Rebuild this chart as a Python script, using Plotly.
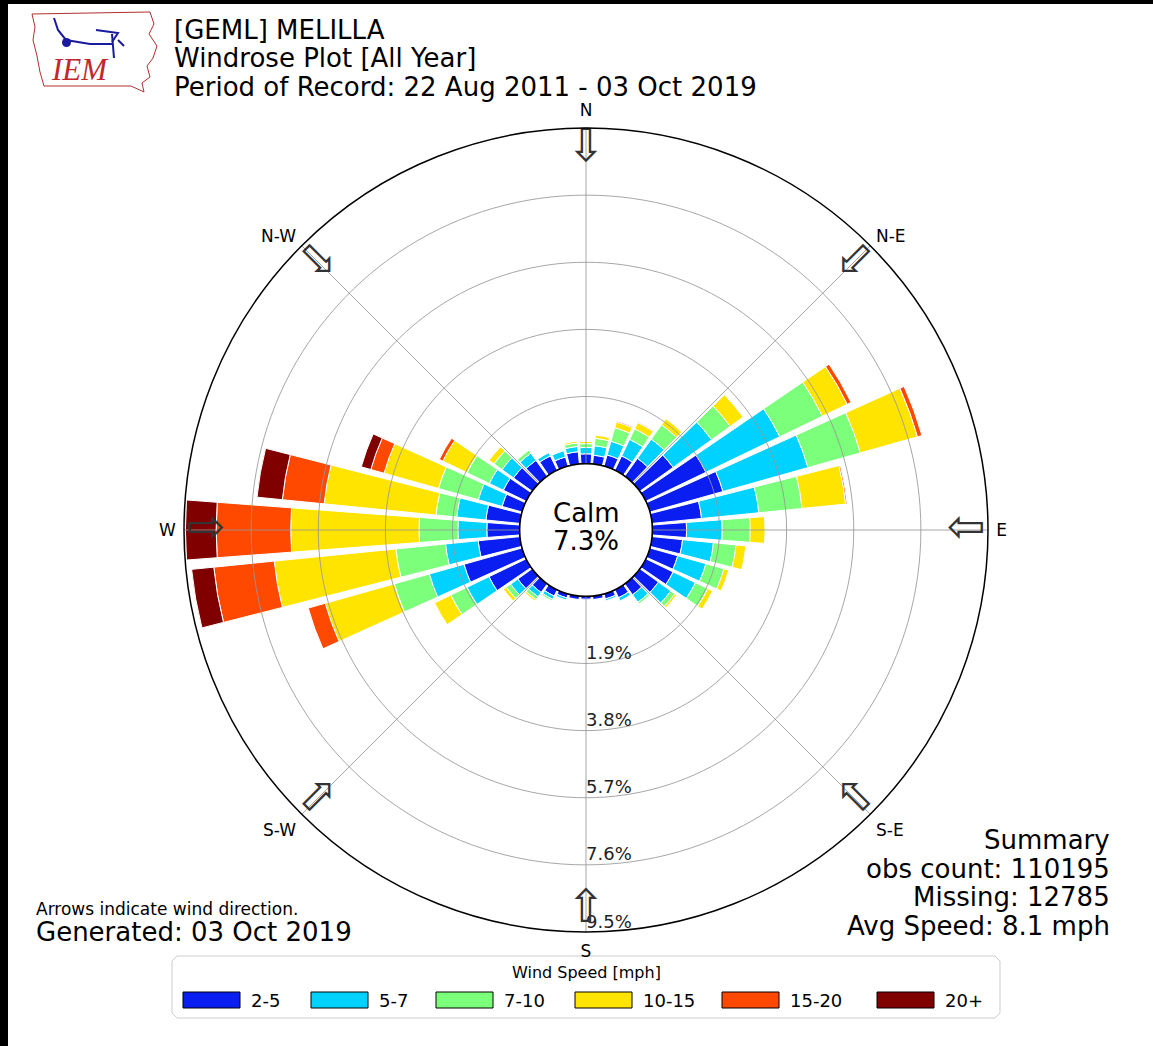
import numpy as np
import plotly.graph_objects as go

W, H = 1153, 1046

# ---- data -------------------------------------------------------------
directions = list(range(0, 360, 10))
speed_bins = ["2-5", "5-7", "7-10", "10-15", "15-20", "20+"]
bin_colors = ["#0a1ef2", "#00d2ff", "#7cff7a", "#ffe400", "#ff4800", "#800000"]

# percent of observations per 10-degree sector and speed class
freq_2_5 = [0.28, 0.25, 0.33, 0.45, 0.62, 1.16, 1.89, 2.15, 1.41, 0.97, 0.87, 0.82,
            0.86, 0.65, 0.38, 0.25, 0.15, 0.10, 0.08, 0.10, 0.12, 0.20, 0.30, 0.50,
            1.17, 1.71, 1.19, 0.93, 0.97, 0.59, 0.72, 0.65, 0.55, 0.45, 0.27, 0.35]
freq_5_7 = [0.18, 0.27, 0.40, 0.52, 0.67, 1.34, 2.32, 2.50, 1.63, 1.01, 0.88, 0.83,
            0.70, 0.43, 0.26, 0.10, 0.05, 0.00, 0.00, 0.00, 0.06, 0.10, 0.15, 0.25,
            0.69, 1.02, 0.93, 0.82, 0.83, 0.70, 0.44, 0.40, 0.25, 0.10, 0.18, 0.15]
freq_7_10 = [0.11, 0.21, 0.40, 0.33, 0.50, 0.65, 1.34, 1.54, 1.23, 0.79, 0.64, 0.53,
             0.39, 0.14, 0.06, 0.00, 0.00, 0.00, 0.00, 0.00, 0.00, 0.05, 0.10, 0.15,
             0.51, 1.03, 1.41, 1.10, 0.59, 1.17, 0.70, 0.28, 0.10, 0.00, 0.00, 0.10]
freq_10_15 = [0.06, 0.09, 0.17, 0.20, 0.21, 0.45, 0.78, 1.68, 1.24, 0.42, 0.28, 0.14,
              0.15, 0.06, 0.00, 0.00, 0.00, 0.00, 0.00, 0.00, 0.00, 0.00, 0.05, 0.10,
              0.51, 2.03, 3.46, 3.63, 3.18, 1.60, 0.76, 0.17, 0.00, 0.00, 0.00, 0.05]
freq_15_20 = [0.00, 0.00, 0.03, 0.02, 0.00, 0.00, 0.12, 0.13, 0.04, 0.00, 0.00, 0.00,
              0.00, 0.00, 0.00, 0.00, 0.00, 0.00, 0.00, 0.00, 0.00, 0.00, 0.00, 0.00,
              0.00, 0.50, 1.72, 2.11, 1.19, 0.39, 0.11, 0.00, 0.00, 0.00, 0.00, 0.00]
freq_20_up = [0.00, 0.00, 0.00, 0.00, 0.00, 0.00, 0.00, 0.00, 0.00, 0.00, 0.00, 0.00,
              0.00, 0.00, 0.00, 0.00, 0.00, 0.00, 0.00, 0.00, 0.00, 0.00, 0.00, 0.00,
              0.00, 0.00, 0.63, 0.87, 0.72, 0.28, 0.00, 0.00, 0.00, 0.00, 0.00, 0.00]
bin_freqs = [freq_2_5, freq_5_7, freq_7_10, freq_10_15, freq_15_20, freq_20_up]

calm_pct = 7.3
ring_ticks = [1.9, 3.8, 5.7, 7.6, 9.5]
compass_angles = [0, 45, 90, 135, 180, 225, 270, 315]
compass_labels = ["N", "N-E", "E", "S-E", "S", "S-W", "W", "N-W"]
arrow_glyphs = ["\u21e9", "\u2b03", "\u21e6", "\u2b01", "\u21e7", "\u2b00", "\u21e8", "\u2b02"]

title_lines = ["[GEML] MELILLA", "Windrose Plot [All Year]",
               "Period of Record: 22 Aug 2011 - 03 Oct 2019"]
summary_lines = ["Summary", "obs count: 110195", "Missing: 12785", "Avg Speed: 8.1 mph"]
generated_note = "Arrows indicate wind direction."
generated_date = "Generated: 03 Oct 2019"
legend_title = "Wind Speed [mph]"

# ---- layout helpers (pixel -> paper) ----------------------------------
FONT = "DejaVu Sans"
CX, CY, R = 586, 530, 402
rmax = ring_ticks[-1]
BIG, MID = 26, 18


def px(x):
    return x / W


def py(y):
    return 1 - y / H


def path_from(points, close=True):
    s = "M " + " L ".join(f"{px(x):.5f},{py(y):.5f}" for x, y in points)
    return s + (" Z" if close else "")


fig = go.Figure()

# stacked wind-speed bars
for name, color, vals in zip(speed_bins, bin_colors, bin_freqs):
    fig.add_trace(go.Barpolar(
        r=vals, theta=directions, width=8.6, name=name,
        marker=dict(color=color, line=dict(color="white", width=1)),
        hoverinfo="skip",
    ))

# grid rings and spokes drawn over the bars
circle_theta = np.arange(0, 361, 2)
grid_line = dict(color="rgba(150,150,150,0.85)", width=1)
for t in ring_ticks[:-1]:
    fig.add_trace(go.Scatterpolar(
        r=[t] * len(circle_theta), theta=circle_theta, mode="lines",
        line=grid_line, hoverinfo="skip", cliponaxis=False))
for a in compass_angles:
    fig.add_trace(go.Scatterpolar(
        r=[0, rmax], theta=[a, a], mode="lines",
        line=grid_line, hoverinfo="skip", cliponaxis=False))

# calm circle outline
fig.add_trace(go.Scatterpolar(
    r=[0] * len(circle_theta), theta=circle_theta, mode="lines",
    line=dict(color="black", width=1.5), hoverinfo="skip", cliponaxis=False))

# ring labels along the south spoke
fig.add_trace(go.Scatterpolar(
    r=ring_ticks, theta=[180] * len(ring_ticks), mode="text",
    text=[f"{t}%" for t in ring_ticks], textposition="top right",
    textfont=dict(family=FONT, size=MID, color="#222"), hoverinfo="skip",
    cliponaxis=False))

# direction arrows pointing inward from the rim
fig.add_trace(go.Scatterpolar(
    r=[rmax - 0.62] * len(compass_angles), theta=compass_angles, mode="text",
    text=arrow_glyphs, textposition="middle center",
    textfont=dict(family=FONT, size=46, color="#333"), hoverinfo="skip",
    cliponaxis=False))

fig.update_layout(
    width=W, height=H, margin=dict(l=0, r=0, t=0, b=0),
    paper_bgcolor="white", showlegend=False,
    font=dict(family=FONT, color="black"),
    polar=dict(
        domain=dict(x=[px(CX - R), px(CX + R)], y=[py(CY + R), py(CY - R)]),
        hole=0.165, bgcolor="white", barmode="stack",
        radialaxis=dict(range=[0, rmax], showgrid=False, showline=False,
                        showticklabels=False, ticks=""),
        angularaxis=dict(direction="clockwise", rotation=90,
                         tickmode="array", tickvals=compass_angles,
                         ticktext=compass_labels, showgrid=False,
                         showline=True, linecolor="black", linewidth=1.5,
                         ticks="outside", ticklen=4,
                         tickcolor="rgba(0,0,0,0)",
                         tickfont=dict(family=FONT, size=MID - 1, color="black")),
    ),
)

shapes = []
annotations = []

# frame edges
shapes.append(dict(type="rect", xref="paper", yref="paper", x0=0, x1=px(8),
                   y0=0, y1=1, fillcolor="black", line_width=0))
shapes.append(dict(type="rect", xref="paper", yref="paper", x0=0, x1=1,
                   y0=py(4), y1=1, fillcolor="black", line_width=0))

# logo: state outline, station glyph and lettering
outline = [(32, 14), (150, 12), (154, 24), (149, 34), (157, 46), (153, 58),
           (147, 66), (150, 77), (142, 83), (144, 92), (131, 86), (44, 86),
           (40, 72), (37, 56), (33, 40), (35, 27)]
shapes.append(dict(type="path", xref="paper", yref="paper", path=path_from(outline),
                   line=dict(color="#b03030", width=1), fillcolor="rgba(0,0,0,0)"))
for seg in [[(54, 18), (58, 30), (66, 40), (90, 44), (112, 44)],
            [(96, 30), (118, 33), (112, 42)], [(112, 34), (114, 58)],
            [(118, 40), (124, 46)]]:
    shapes.append(dict(type="path", xref="paper", yref="paper",
                       path=path_from(seg, close=False),
                       line=dict(color="#1a1aa0", width=2)))
shapes.append(dict(type="circle", xref="paper", yref="paper",
                   x0=px(62), x1=px(71), y0=py(47), y1=py(38),
                   fillcolor="#1a1aa0", line_width=0))
annotations.append(dict(text="<i>IEM</i>", x=px(80), y=py(70), xref="paper", yref="paper",
                        xanchor="center", yanchor="middle", showarrow=False,
                        font=dict(family="Liberation Serif", size=31, color="#c0282d")))

# title block
for i, line in enumerate(title_lines):
    annotations.append(dict(text=line, x=px(172), y=py(30 + 28.5 * i), xref="paper",
                            yref="paper", xanchor="left", yanchor="middle",
                            showarrow=False, font=dict(family=FONT, size=BIG)))

# calm share in the middle
annotations.append(dict(text="Calm", x=px(CX), y=py(513), xref="paper", yref="paper",
                        xanchor="center", yanchor="middle", showarrow=False,
                        font=dict(family=FONT, size=BIG)))
annotations.append(dict(text=f"{calm_pct}%", x=px(CX), y=py(541), xref="paper",
                        yref="paper", xanchor="center", yanchor="middle",
                        showarrow=False, font=dict(family=FONT, size=BIG)))

# summary block
for i, line in enumerate(summary_lines):
    annotations.append(dict(text=line, x=px(1112), y=py(840 + 28.7 * i), xref="paper",
                            yref="paper", xanchor="right", yanchor="middle",
                            showarrow=False, font=dict(family=FONT, size=BIG)))

annotations.append(dict(text=generated_note, x=px(34), y=py(909), xref="paper",
                        yref="paper", xanchor="left", yanchor="middle",
                        showarrow=False, font=dict(family=FONT, size=MID - 1)))
annotations.append(dict(text=generated_date, x=px(34), y=py(932), xref="paper",
                        yref="paper", xanchor="left", yanchor="middle",
                        showarrow=False, font=dict(family=FONT, size=BIG)))

# speed legend
lx0, lx1, ly0, ly1, rad = 172, 1000, 956, 1018, 5
box = [(lx0 + rad, ly0), (lx1 - rad, ly0), (lx1, ly0 + rad), (lx1, ly1 - rad),
       (lx1 - rad, ly1), (lx0 + rad, ly1), (lx0, ly1 - rad), (lx0, ly0 + rad)]
shapes.append(dict(type="path", xref="paper", yref="paper", path=path_from(box),
                   line=dict(color="#cccccc", width=1), fillcolor="white", layer="below"))
annotations.append(dict(text=legend_title, x=px(586), y=py(972), xref="paper",
                        yref="paper", xanchor="center", yanchor="middle",
                        showarrow=False, font=dict(family=FONT, size=16)))
swatch_left = [183, 311, 436, 575, 722, 877]
for xl, name, color in zip(swatch_left, speed_bins, bin_colors):
    shapes.append(dict(type="rect", xref="paper", yref="paper", x0=px(xl),
                       x1=px(xl + 57), y0=py(1008), y1=py(992), fillcolor=color,
                       line=dict(color="black", width=1)))
    annotations.append(dict(text=name, x=px(xl + 66), y=py(1000), xref="paper",
                            yref="paper", xanchor="left", yanchor="middle",
                            showarrow=False, font=dict(family=FONT, size=MID)))

fig.update_layout(shapes=shapes, annotations=annotations)
fig.write_html("out.html")
